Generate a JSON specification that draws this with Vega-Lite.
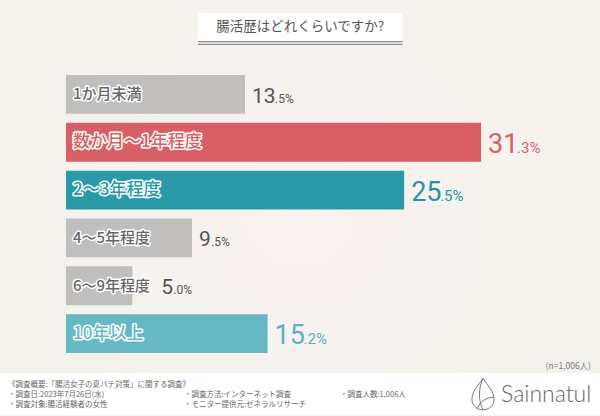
{
  "$schema": "https://vega.github.io/schema/vega-lite/v6.json",
  "width": 600,
  "height": 416,
  "autosize": {"type": "fit", "contains": "padding"},
  "padding": 0,
  "background": "#f5f3ef",
  "config": {"view": {"stroke": null}, "font": "Noto Sans CJK JP"},
  "datasets": {
    "rows": [
      {"label": "1か月未満", "pct": 13.5, "whole": "13", "decimal": ".5%", "tone": "gray", "slot": "a"},
      {"label": "数か月〜1年程度", "pct": 31.3, "whole": "31", "decimal": ".3%", "tone": "red", "slot": "b"},
      {"label": "2〜3年程度", "pct": 25.5, "whole": "25", "decimal": ".5%", "tone": "teal", "slot": "b"},
      {"label": "4〜5年程度", "pct": 9.5, "whole": "9", "decimal": ".5%", "tone": "gray", "slot": "c"},
      {"label": "6〜9年程度", "pct": 5.0, "whole": "5", "decimal": ".0%", "tone": "gray", "slot": "d"},
      {"label": "10年以上", "pct": 15.2, "whole": "15", "decimal": ".2%", "tone": "light", "slot": "b"}
    ],
    "notes": [
      {"text": "《調査概要:「腸活女子の夏バテ対策」に関する調査》", "col": "one", "line": "head"},
      {"text": "・調査日:2023年7月26日(水)", "col": "one", "line": "first"},
      {"text": "・調査対象:腸活経験者の女性", "col": "one", "line": "second"},
      {"text": "・調査方法:インターネット調査", "col": "two", "line": "first"},
      {"text": "・モニター提供元:ゼネラルリサーチ", "col": "two", "line": "second"},
      {"text": "・調査人数:1,006人", "col": "three", "line": "first"}
    ]
  },
  "resolve": {"scale": {"x": "independent", "y": "independent"}},
  "layer": [
    {
      "data": {"values": [{"part": "backdrop"}]},
      "mark": {"type": "rect", "color": {"gradient": "radial", "x1": 0.5, "y1": 0.5, "r1": 0, "x2": 0.5, "y2": 0.5, "r2": 0.7, "stops": [{"offset": 0, "color": "#f8f2f0"}, {"offset": 1, "color": "#f3f2ec"}]}},
      "encoding": {
        "x": {"field": "part", "type": "nominal", "axis": null, "scale": {"type": "band", "range": [0, 600], "paddingInner": 0, "paddingOuter": 0}},
        "y": {"field": "part", "type": "nominal", "axis": null, "scale": {"type": "band", "range": [0, 416], "paddingInner": 0, "paddingOuter": 0}}
      }
    },
    {
      "data": {"values": [{"part": "footer"}]},
      "mark": {"type": "rect", "color": "#ffffff"},
      "encoding": {
        "x": {"field": "part", "type": "nominal", "axis": null, "scale": {"type": "band", "range": [0, 600], "paddingInner": 0, "paddingOuter": 0}},
        "y": {"field": "part", "type": "nominal", "axis": null, "scale": {"type": "band", "range": [373, 415], "paddingInner": 0, "paddingOuter": 0}}
      }
    },
    {
      "data": {"values": [{"part": "title", "text": "腸活歴はどれくらいですか?"}]},
      "encoding": {
        "x": {"field": "part", "type": "nominal", "axis": null, "scale": {"type": "band", "range": [198, 402.5], "paddingInner": 0, "paddingOuter": 0}},
        "y": {"field": "part", "type": "nominal", "axis": null, "scale": {"type": "band", "range": [13, 41], "paddingInner": 0, "paddingOuter": 0}}
      },
      "layer": [
        {"mark": {"type": "rect", "color": "#ffffff"}},
        {"mark": {"type": "text", "fontSize": 13.5, "color": "#555555"}, "encoding": {"text": {"field": "text"}}}
      ]
    },
    {
      "data": {"values": [{"part": "title", "rule": "upper"}, {"part": "title", "rule": "lower"}]},
      "mark": {"type": "rect", "color": "#8a8a8a"},
      "encoding": {
        "x": {"field": "part", "type": "nominal", "axis": null, "scale": {"type": "band", "range": [198, 402.5], "paddingInner": 0, "paddingOuter": 0}},
        "y": {"field": "rule", "type": "nominal", "axis": null, "scale": {"type": "band", "domain": ["upper", "gap", "lower"], "range": [41, 45], "paddingInner": 0, "paddingOuter": 0}}
      }
    },
    {
      "data": {"name": "rows"},
      "encoding": {
        "x": {"field": "pct", "type": "quantitative", "axis": null, "scale": {"domain": [-4.977, 40.27], "range": [0, 600], "nice": false, "zero": false}},
        "y": {"field": "label", "type": "nominal", "sort": null, "axis": null, "scale": {"type": "band", "range": [75, 353], "paddingInner": 0.1875, "paddingOuter": 0}}
      },
      "resolve": {"scale": {"color": "independent"}},
      "layer": [
        {
          "mark": {"type": "bar", "opacity": 1},
          "encoding": {
            "x2": {"datum": 0},
            "color": {"field": "tone", "type": "nominal", "legend": null, "scale": {"domain": ["gray", "red", "teal", "light"], "range": ["#c0bfbd", "#d85f66", "#2a9aa9", "#66b8c4"]}}
          }
        },
        {
          "mark": {"type": "text", "align": "left", "dx": 7, "stroke": "#ffffff", "strokeWidth": 3, "strokeJoin": "round", "fontWeight": 500, "color": "#ffffff"},
          "encoding": {
            "x": {"datum": 0},
            "text": {"field": "label"},
            "size": {"condition": {"test": "datum.tone === 'gray'", "value": 15}, "value": 17}
          }
        },
        {
          "mark": {"type": "text", "align": "left", "dx": 7, "fontWeight": 500},
          "encoding": {
            "x": {"datum": 0},
            "text": {"field": "label"},
            "size": {"condition": {"test": "datum.tone === 'gray'", "value": 15}, "value": 17},
            "color": {"field": "tone", "type": "nominal", "legend": null, "scale": {"domain": ["gray", "red", "teal", "light"], "range": ["#666666", "#d85f66", "#2a9aa9", "#66b8c4"]}}
          }
        },
        {
          "transform": [{"filter": "datum.slot === 'b'"}],
          "layer": [
            {"mark": {"type": "text", "align": "left", "baseline": "alphabetic", "dx": 7, "dy": 10.5, "font": "Roboto", "fontSize": 27}, "encoding": {"text": {"field": "whole"}}},
            {"mark": {"type": "text", "align": "left", "baseline": "alphabetic", "dx": 36, "dy": 10.5, "font": "Roboto", "fontSize": 15}, "encoding": {"text": {"field": "decimal"}}}
          ],
          "encoding": {"color": {"field": "tone", "type": "nominal", "legend": null, "scale": {"domain": ["gray", "red", "teal", "light"], "range": ["#555555", "#d4606a", "#2a93a5", "#5fb0bd"]}}}
        },
        {
          "transform": [{"filter": "datum.slot !== 'b'"}],
          "encoding": {"color": {"value": "#555555"}},
          "layer": [
            {"transform": [{"filter": "datum.slot === 'a'"}], "mark": {"type": "text", "align": "left", "baseline": "alphabetic", "dx": 7, "dy": 8.5, "font": "Roboto", "fontSize": 21}, "encoding": {"text": {"field": "whole"}}},
            {"transform": [{"filter": "datum.slot === 'a'"}], "mark": {"type": "text", "align": "left", "baseline": "alphabetic", "dx": 30, "dy": 8.5, "font": "Roboto", "fontSize": 12}, "encoding": {"text": {"field": "decimal"}}},
            {"transform": [{"filter": "datum.slot === 'c'"}], "mark": {"type": "text", "align": "left", "baseline": "alphabetic", "dx": 7, "dy": 8.5, "font": "Roboto", "fontSize": 21}, "encoding": {"text": {"field": "whole"}}},
            {"transform": [{"filter": "datum.slot === 'c'"}], "mark": {"type": "text", "align": "left", "baseline": "alphabetic", "dx": 19, "dy": 8.5, "font": "Roboto", "fontSize": 12}, "encoding": {"text": {"field": "decimal"}}},
            {"transform": [{"filter": "datum.slot === 'd'"}], "mark": {"type": "text", "align": "left", "baseline": "alphabetic", "dx": 29, "dy": 8.5, "font": "Roboto", "fontSize": 21}, "encoding": {"text": {"field": "whole"}}},
            {"transform": [{"filter": "datum.slot === 'd'"}], "mark": {"type": "text", "align": "left", "baseline": "alphabetic", "dx": 41, "dy": 8.5, "font": "Roboto", "fontSize": 12}, "encoding": {"text": {"field": "decimal"}}}
          ]
        }
      ]
    },
    {
      "data": {"values": [{"part": "note", "text": "(n=1,006人)"}]},
      "mark": {"type": "text", "align": "right", "fontSize": 8.5, "color": "#777777"},
      "encoding": {
        "x": {"field": "part", "type": "nominal", "axis": null, "scale": {"type": "point", "range": [591, 591]}},
        "y": {"field": "part", "type": "nominal", "axis": null, "scale": {"type": "point", "range": [366, 366]}},
        "text": {"field": "text"}
      }
    },
    {
      "data": {"name": "notes"},
      "transform": [{"filter": "datum.col === 'one'"}],
      "mark": {"type": "text", "align": "left", "fontSize": 7.5, "color": "#666666"},
      "encoding": {
        "x": {"field": "col", "type": "nominal", "axis": null, "scale": {"type": "point", "range": [8, 8]}},
        "y": {"field": "line", "type": "nominal", "axis": null, "scale": {"type": "point", "padding": 0, "domain": ["head", "first", "second"], "range": [385, 404.5]}},
        "text": {"field": "text"}
      }
    },
    {
      "data": {"name": "notes"},
      "transform": [{"filter": "datum.col === 'two'"}],
      "mark": {"type": "text", "align": "left", "fontSize": 7.5, "color": "#666666"},
      "encoding": {
        "x": {"field": "col", "type": "nominal", "axis": null, "scale": {"type": "point", "range": [184, 184]}},
        "y": {"field": "line", "type": "nominal", "axis": null, "scale": {"type": "point", "padding": 0, "domain": ["head", "first", "second"], "range": [385, 404.5]}},
        "text": {"field": "text"}
      }
    },
    {
      "data": {"name": "notes"},
      "transform": [{"filter": "datum.col === 'three'"}],
      "mark": {"type": "text", "align": "left", "fontSize": 7.5, "color": "#666666"},
      "encoding": {
        "x": {"field": "col", "type": "nominal", "axis": null, "scale": {"type": "point", "range": [340, 340]}},
        "y": {"field": "line", "type": "nominal", "axis": null, "scale": {"type": "point", "padding": 0, "domain": ["head", "first", "second"], "range": [385, 404.5]}},
        "text": {"field": "text"}
      }
    },
    {
      "data": {"values": [{"part": "logo"}]},
      "mark": {"type": "point", "filled": false, "size": 1000, "strokeWidth": 1, "color": "#777777", "opacity": 1, "shape": "M0,-1 C0.3,-0.5 0.7,-0.2 0.7,0.35 C0.7,0.75 0.35,1 0,1 C-0.35,1 -0.7,0.75 -0.7,0.35 C-0.7,-0.2 -0.3,-0.5 0,-1 Z M0,-1 C-0.3,-0.3 -0.3,0.4 0,1 M0.7,0.2 C0.2,0.2 -0.2,0.5 -0.35,0.9"},
      "encoding": {
        "x": {"field": "part", "type": "nominal", "axis": null, "scale": {"type": "point", "range": [483, 483]}},
        "y": {"field": "part", "type": "nominal", "axis": null, "scale": {"type": "point", "range": [394, 394]}}
      }
    },
    {
      "data": {"values": [{"part": "brand", "text": "Sainnatul"}]},
      "mark": {"type": "text", "align": "left", "font": "Lato", "fontSize": 23, "fontWeight": 300, "color": "#666666"},
      "encoding": {
        "x": {"field": "part", "type": "nominal", "axis": null, "scale": {"type": "point", "range": [501, 501]}},
        "y": {"field": "part", "type": "nominal", "axis": null, "scale": {"type": "point", "range": [395, 395]}},
        "text": {"field": "text"}
      }
    }
  ]
}
